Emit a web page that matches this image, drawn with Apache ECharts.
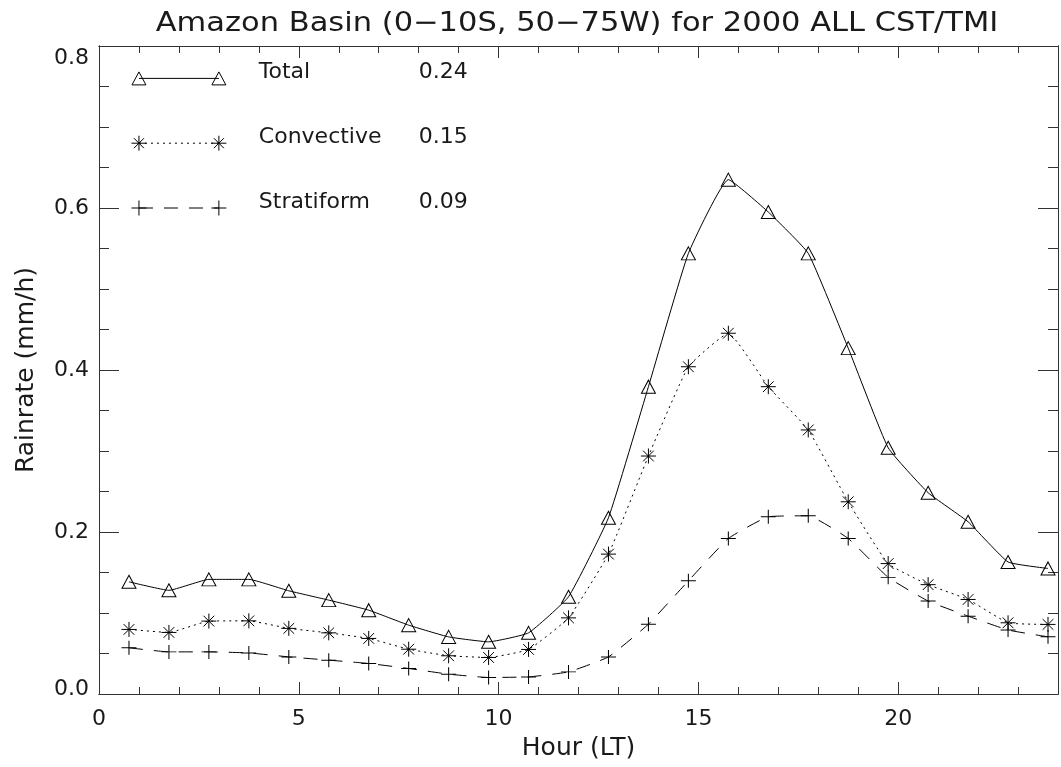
<!DOCTYPE html>
<html>
<head>
<meta charset="utf-8">
<title>Amazon Basin diurnal rainrate</title>
<script src="https://cdn.jsdelivr.net/npm/echarts@6/dist/echarts.min.js"></script>
<style>
  html, body { margin: 0; padding: 0; background: #fff; }
  #chart { width: 1061px; height: 767px; }
</style>
</head>
<body>
<div id="chart"></div>
<script>
// Local-time hour of each composite bin
const hours = [0.75, 1.75, 2.75, 3.75, 4.75, 5.75, 6.75, 7.75, 8.75, 9.75, 10.75, 11.75,
               12.75, 13.75, 14.75, 15.75, 16.75, 17.75, 18.75, 19.75, 20.75, 21.75, 22.75, 23.75];

// Mean rain rate (mm/h) per hour
const totalRate = [0.1385, 0.128, 0.1415, 0.1415, 0.1274, 0.1159, 0.1035, 0.085, 0.0705, 0.0644, 0.0755, 0.120,
                   0.2176, 0.3794, 0.544, 0.635, 0.595, 0.544, 0.427, 0.304, 0.2485, 0.2126, 0.163, 0.155];
const convRate  = [0.0797, 0.076, 0.090, 0.0903, 0.081, 0.0755, 0.0686, 0.0553, 0.0472, 0.0451, 0.055, 0.094,
                   0.1727, 0.2938, 0.404, 0.4454, 0.3794, 0.326, 0.2373, 0.161, 0.135, 0.1167, 0.0879, 0.0859];
const stratRate = [0.057, 0.052, 0.052, 0.0507, 0.0458, 0.0418, 0.0377, 0.0315, 0.0245, 0.0204, 0.0211, 0.0273,
                   0.0458, 0.0862, 0.1397, 0.192, 0.2188, 0.220, 0.192, 0.144, 0.1147, 0.0961, 0.079, 0.0706];

// Legend entries and daily means
const seriesNames = ['Total', 'Convective', 'Stratiform'];
const dailyMeans  = ['0.24', '0.15', '0.09'];

const titleText = 'Amazon Basin (0\u221210S, 50\u221275W) for 2000 ALL CST/TMI';
const xName = 'Hour (LT)';
const yName = 'Rainrate (mm/h)';

// ---- styling / layout ----
const FONT = 'DejaVu Sans';
const INK = '#1a1a1a';
const AXIS = '#333';
const GRID = { left: 99, top: 46, width: 969, height: 648 };

// Symbol shapes
const ASTERISK = 'path://M0,7L14,7M7,0L7,14M2,2L12,12M12,2L2,12';
const PLUS = 'path://M0,7L14,7M7,0L7,14';

const styles = [
  { symbol: 'triangle', size: [14, 13], line: 'solid' },
  { symbol: ASTERISK, size: [15, 15], line: [2, 4] },
  { symbol: PLUS, size: [15, 14], line: [14, 11] }
];
const values = [totalRate, convRate, stratRate];

const chart = echarts.init(document.getElementById('chart'), null, { renderer: 'canvas' });

function xAxisDef(pos, interval, tickLen, withLabels) {
  return {
    type: 'value', position: pos, min: 0, max: 24, interval: interval,
    gridIndex: 0,
    axisLine: { show: true, onZero: false, lineStyle: { color: AXIS, width: 1 } },
    axisTick: { show: true, inside: true, length: tickLen, lineStyle: { color: AXIS, width: 1 } },
    splitLine: { show: false },
    axisLabel: withLabels ? {
      show: true, margin: 14, color: INK, fontFamily: FONT, fontSize: 22,
      formatter: v => (v % 5 === 0 ? String(v) : '')
    } : { show: false },
    name: withLabels ? xName : '',
    nameLocation: 'middle', nameGap: 42,
    nameTextStyle: { color: INK, fontFamily: FONT, fontSize: 25 }
  };
}

function yAxisDef(pos, interval, tickLen, withLabels) {
  return {
    type: 'value', position: pos, min: 0, max: 0.8, interval: interval,
    gridIndex: 0,
    axisLine: { show: true, onZero: false, lineStyle: { color: AXIS, width: 1 } },
    axisTick: { show: true, inside: true, length: tickLen, lineStyle: { color: AXIS, width: 1 } },
    splitLine: { show: false },
    axisLabel: withLabels ? {
      show: true, margin: 10, color: INK, fontFamily: FONT, fontSize: 22,
      formatter: v => {
        const s = v.toFixed(1);
        if (Math.abs(v - 0.8) < 1e-6) return '{hi|' + s + '}';
        if (Math.abs(v) < 1e-6) return '{lo|' + s + '}';
        return s;
      },
      rich: {
        hi: { padding: [24, 0, 0, 0], fontFamily: FONT, fontSize: 22, color: INK },
        lo: { padding: [0, 0, 10, 0], fontFamily: FONT, fontSize: 22, color: INK }
      }
    } : { show: false },
    name: withLabels ? yName : '',
    nameLocation: 'middle', nameRotate: 90, nameGap: 60,
    nameTextStyle: { color: INK, fontFamily: FONT, fontSize: 25 }
  };
}

const series = values.map((arr, i) => ({
  name: seriesNames[i],
  type: 'line',
  xAxisIndex: 0, yAxisIndex: 0,
  data: hours.map((h, k) => [h, arr[k]]),
  smooth: 0.12,
  symbol: styles[i].symbol,
  symbolSize: styles[i].size,
  showSymbol: true,
  showAllSymbol: true,
  clip: false,
  lineStyle: { color: '#000', width: 1, type: styles[i].line },
  itemStyle: { color: 'rgba(0,0,0,0)', borderColor: '#000', borderWidth: 1 },
  emphasis: { disabled: true },
  animation: false,
  z: 3 - i
}));

chart.setOption({
  animation: false,
  backgroundColor: '#fff',
  grid: GRID,
  xAxis: [
    xAxisDef('bottom', 5, 12, true),
    xAxisDef('bottom', 1, 7, false),
    xAxisDef('top', 5, 12, false),
    xAxisDef('top', 1, 7, false)
  ],
  yAxis: [
    yAxisDef('left', 0.2, 20, true),
    yAxisDef('left', 0.05, 10, false),
    yAxisDef('right', 0.2, 20, false),
    yAxisDef('right', 0.05, 10, false)
  ],
  series: series
});

// ---- title and in-plot key ----
const titleCenterX = 577;

// Key placement in axis units
const keyX = [1, 3];
const keyRowY = [0.76, 0.68, 0.60];
const keyNameX = 4;
const keyMeanX = 8;

function px(x, y) {
  return chart.convertToPixel({ xAxisIndex: 0, yAxisIndex: 0 }, [x, y]);
}

function seg(x1, y1, x2, y2) {
  return { type: 'line', shape: { x1, y1, x2, y2 }, style: { stroke: '#000', lineWidth: 1 } };
}

function keySymbol(i, cx, cy) {
  if (i === 0) {
    const w = 14, h = 13;
    return [{
      type: 'polygon',
      shape: { points: [[cx, cy - h / 2], [cx + w / 2, cy + h / 2], [cx - w / 2, cy + h / 2]] },
      style: { fill: 'none', stroke: '#000', lineWidth: 1 }
    }];
  }
  const r = 7.5, d = 5;
  const out = [seg(cx - r, cy, cx + r, cy), seg(cx, cy - r, cx, cy + r)];
  if (i === 1) {
    out.push(seg(cx - d, cy - d, cx + d, cy + d));
    out.push(seg(cx + d, cy - d, cx - d, cy + d));
  }
  return out;
}

const graphics = [{
  type: 'text', x: titleCenterX, y: 24, scaleX: 1.13,
  style: { text: titleText, fill: INK, font: `27px "${FONT}"`, align: 'center', verticalAlign: 'middle' }
}];

seriesNames.forEach((name, i) => {
  const a = px(keyX[0], keyRowY[i]);
  const b = px(keyX[1], keyRowY[i]);
  const lt = styles[i].line;
  graphics.push({
    type: 'line',
    shape: { x1: a[0], y1: a[1], x2: b[0], y2: b[1] },
    style: { stroke: '#000', lineWidth: 1, lineDash: Array.isArray(lt) ? lt : null }
  });
  keySymbol(i, a[0], a[1]).forEach(e => graphics.push(e));
  keySymbol(i, b[0], b[1]).forEach(e => graphics.push(e));
  const t = px(keyNameX, keyRowY[i]);
  graphics.push({
    type: 'text', x: t[0], y: t[1] - 6,
    style: { text: name, fill: INK, font: `22px "${FONT}"`, align: 'left', verticalAlign: 'middle' }
  });
  const m = px(keyMeanX, keyRowY[i]);
  graphics.push({
    type: 'text', x: m[0], y: m[1] - 6,
    style: { text: dailyMeans[i], fill: INK, font: `22px "${FONT}"`, align: 'left', verticalAlign: 'middle' }
  });
});

chart.setOption({ graphic: graphics });
</script>
</body>
</html>
